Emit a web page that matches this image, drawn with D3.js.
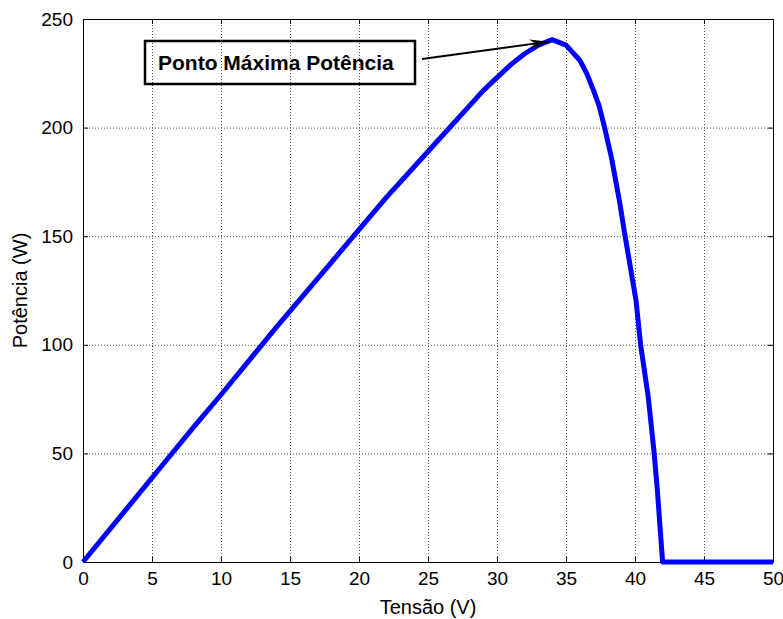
<!DOCTYPE html>
<html>
<head>
<meta charset="utf-8">
<script src="https://cdn.jsdelivr.net/npm/d3@7"></script>
<style>
  body { margin: 0; background: #fff; }
  svg { font-family: "Liberation Sans", Arial, sans-serif; }
  .grid line { stroke: #555; stroke-dasharray: 1,2; stroke-width: 1; }
  .axis text { font-size: 19px; fill: #000; }
  .axis path, .axis line { stroke: #000; }
</style>
</head>
<body>
<div id="chart"></div>
<script>
// tensão (V) e potência (W)
var voltage = [0, 2, 4, 6, 8, 10, 12, 14, 16, 18, 20, 22, 24, 26, 28, 29, 30, 31, 32, 33, 34, 35, 36, 36.5, 37, 37.4, 37.8, 38.3, 38.86, 39.27, 40.07, 40.41, 40.96, 41.38, 41.62, 42, 45, 50];
var power = [0, 15.5, 31, 46.5, 62, 77, 92.5, 108, 123, 138, 153, 168, 182, 196, 210, 217, 223, 229, 234, 238, 240.5, 238, 231, 225, 217, 210, 200, 186, 166.7, 150.5, 120.6, 99.9, 76, 50.6, 33.1, 0, 0, 0];
var xTicks = [0, 5, 10, 15, 20, 25, 30, 35, 40, 45, 50];
var yTicks = [0, 50, 100, 150, 200, 250];
var noteText = "Ponto Máxima Potência";
var notePoint = [34, 240.5];

var width = 783, height = 619;
var margin = {top: 19, right: 10, bottom: 57, left: 83};
var w = width - margin.left - margin.right,
    h = height - margin.top - margin.bottom;

var svg = d3.select("#chart").append("svg")
    .attr("width", width)
    .attr("height", height);

var g = svg.append("g")
    .attr("transform", "translate(" + margin.left + "," + margin.top + ")");

var x = d3.scaleLinear().domain([0, 50]).range([0, w]);
var y = d3.scaleLinear().domain([0, 250]).range([h, 0]);

// grade pontilhada
g.append("g").attr("class", "grid")
    .selectAll("line").data(xTicks.slice(1, -1)).enter().append("line")
    .attr("x1", function (d) { return x(d) + 0.5; })
    .attr("x2", function (d) { return x(d) + 0.5; })
    .attr("y1", 0).attr("y2", h);
g.append("g").attr("class", "grid")
    .selectAll("line").data(yTicks.slice(1, -1)).enter().append("line")
    .attr("y1", function (d) { return y(d) + 0.5; })
    .attr("y2", function (d) { return y(d) + 0.5; })
    .attr("x1", 0).attr("x2", w);

// eixos
g.append("g").attr("class", "axis")
    .attr("transform", "translate(0," + h + ")")
    .call(d3.axisBottom(x).tickValues(xTicks).tickSize(-5).tickPadding(10).tickSizeOuter(0));
g.append("g").attr("class", "axis")
    .call(d3.axisLeft(y).tickValues(yTicks).tickSize(-5).tickPadding(10).tickSizeOuter(0));
g.append("g").attr("class", "axis")
    .call(d3.axisTop(x).tickValues(xTicks).tickSize(-5).tickFormat("").tickSizeOuter(0));
g.append("g").attr("class", "axis")
    .attr("transform", "translate(" + w + ",0)")
    .call(d3.axisRight(y).tickValues(yTicks).tickSize(-5).tickFormat("").tickSizeOuter(0));

// curva P-V
var line = d3.line()
    .x(function (d, i) { return x(voltage[i]); })
    .y(function (d) { return y(d); });

g.append("path")
    .datum(power)
    .attr("fill", "none")
    .attr("stroke", "#0000ff")
    .attr("stroke-width", 5)
    .attr("stroke-linejoin", "round")
    .attr("d", line);

// rótulos
svg.append("text")
    .attr("x", margin.left + w / 2)
    .attr("y", 614)
    .attr("text-anchor", "middle")
    .style("font-size", "20px")
    .text("Tensão (V)");
svg.append("text")
    .attr("transform", "translate(27," + (margin.top + h / 2) + ") rotate(-90)")
    .attr("text-anchor", "middle")
    .style("font-size", "20px")
    .text("Potência (W)");

// anotação
svg.append("defs").append("marker")
    .attr("id", "arrow")
    .attr("viewBox", "0 0 10 10")
    .attr("refX", 10).attr("refY", 5)
    .attr("markerWidth", 10).attr("markerHeight", 5)
    .attr("markerUnits", "strokeWidth")
    .attr("orient", "auto")
    .attr("preserveAspectRatio", "none")
    .append("path")
    .attr("d", "M0,0 L10,5 L0,10 L3,5 Z")
    .attr("fill", "#000");

var box = g.append("g").attr("transform", "translate(62,22)");
box.append("rect")
    .attr("width", 270).attr("height", 43)
    .attr("fill", "none")
    .attr("stroke", "#000")
    .attr("stroke-width", 2.5);
box.append("text")
    .attr("x", 13).attr("y", 29)
    .style("font-size", "21px")
    .style("font-weight", "bold")
    .text(noteText);

g.append("line")
    .attr("x1", 339).attr("y1", 40)
    .attr("x2", x(notePoint[0]) - 3).attr("y2", y(notePoint[1]) + 2)
    .attr("stroke", "#000")
    .attr("stroke-width", 2)
    .attr("marker-end", "url(#arrow)");
</script>
</body>
</html>
